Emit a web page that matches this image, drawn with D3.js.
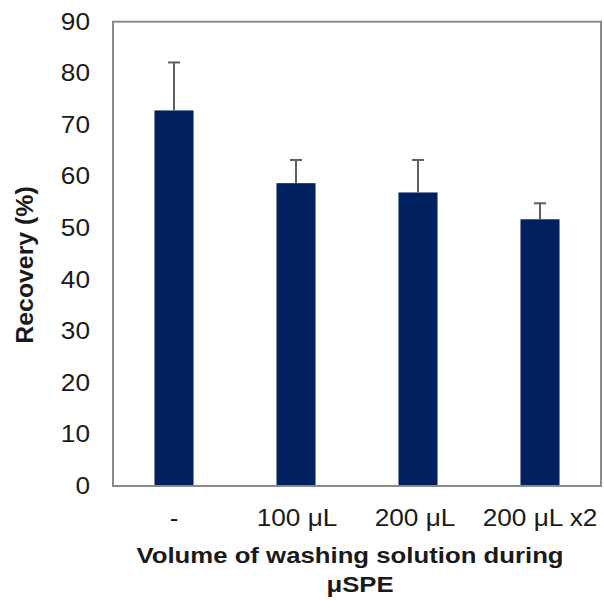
<!DOCTYPE html>
<html>
<head>
<meta charset="utf-8">
<script src="https://cdn.jsdelivr.net/npm/d3@7"></script>
<style>
  html, body { margin: 0; padding: 0; background: #fff; }
  svg { display: block; font-family: "Liberation Sans", Arial, sans-serif; }
</style>
</head>
<body>
<svg id="chart" width="604" height="600"></svg>
<script>
// Recovery for each washing-volume condition, with standard deviation
const categories = ["-", "100 μL", "200 μL", "200 μL x2"];
const recovery = [72.8, 58.7, 56.9, 51.7];
const errors = [9.3, 4.5, 6.3, 3.1];
const yTicks = [0, 10, 20, 30, 40, 50, 60, 70, 80, 90];

const svg = d3.select("#chart");
const plot = { left: 113, right: 601, top: 21.7, bottom: 486 };
const stretch = 1.14;          // wide glyph rendering of the labels
const textColor = "#1a1a1a";

const x = d3.scaleBand()
  .domain(categories)
  .range([plot.left, plot.right])
  .paddingInner(0.68)
  .paddingOuter(0.34);

const y = d3.scaleLinear()
  .domain([0, 90])
  .range([plot.bottom, plot.top]);

// Bars
svg.append("g")
  .selectAll("rect")
  .data(categories)
  .join("rect")
  .attr("x", d => x(d))
  .attr("y", (d, i) => y(recovery[i]))
  .attr("width", x.bandwidth())
  .attr("height", (d, i) => y(0) - y(recovery[i]))
  .attr("fill", "#00205f");

// Error bars (upper only)
const err = svg.append("g").attr("stroke", "#5f5f5f").attr("stroke-width", 2);
categories.forEach((c, i) => {
  const cx = x(c) + x.bandwidth() / 2;
  const top = y(recovery[i] + errors[i]);
  err.append("line")
    .attr("x1", cx).attr("x2", cx)
    .attr("y1", y(recovery[i])).attr("y2", top);
  err.append("line")
    .attr("x1", cx - 6).attr("x2", cx + 6)
    .attr("y1", top).attr("y2", top);
});

// Plot frame
svg.append("rect")
  .attr("x", plot.left).attr("y", plot.top)
  .attr("width", plot.right - plot.left)
  .attr("height", plot.bottom - plot.top)
  .attr("fill", "none")
  .attr("stroke", "#8a8a8a")
  .attr("stroke-width", 2);

// Y axis labels
const yAxis = d3.axisLeft(y).tickValues(yTicks).tickSize(0).tickPadding(23);
const gy = svg.append("g").attr("transform", `translate(${plot.left},0)`).call(yAxis);
gy.select(".domain").remove();
gy.selectAll("text")
  .attr("font-family", "Liberation Sans, Arial, sans-serif")
  .attr("font-size", 23)
  .attr("fill", textColor)
  .attr("x", -23 / stretch)
  .attr("transform", `scale(${stretch},1)`);

// X axis labels, centred under each bar
const xShift = [0, 1, -3, 0];
const xAxis = d3.axisBottom(x).tickSize(0).tickPadding(0);
const gx = svg.append("g").attr("transform", `translate(0,${plot.bottom})`).call(xAxis);
gx.select(".domain").remove();
gx.selectAll("text")
  .attr("font-family", "Liberation Sans, Arial, sans-serif")
  .attr("font-size", 23)
  .attr("fill", textColor)
  .attr("dy", null)
  .attr("y", 40.5)
  .attr("x", (d, i) => xShift[i] / stretch)
  .attr("transform", `scale(${stretch},1)`);

// Axis titles
svg.append("text")
  .attr("transform", `translate(33,265) rotate(-90) scale(1.08,1)`)
  .attr("text-anchor", "middle")
  .attr("font-size", 23)
  .attr("font-weight", "bold")
  .attr("fill", textColor)
  .text("Recovery (%)");

const title = svg.append("g")
  .attr("transform", "translate(350,0) scale(1.12,1)")
  .append("text")
  .attr("text-anchor", "middle")
  .attr("font-size", 23)
  .attr("font-weight", "bold")
  .attr("fill", textColor);
title.append("tspan").attr("x", 0).attr("y", 563).text("Volume of washing solution during");
title.append("tspan").attr("x", 9).attr("y", 592).text("μSPE");
</script>
</body>
</html>
